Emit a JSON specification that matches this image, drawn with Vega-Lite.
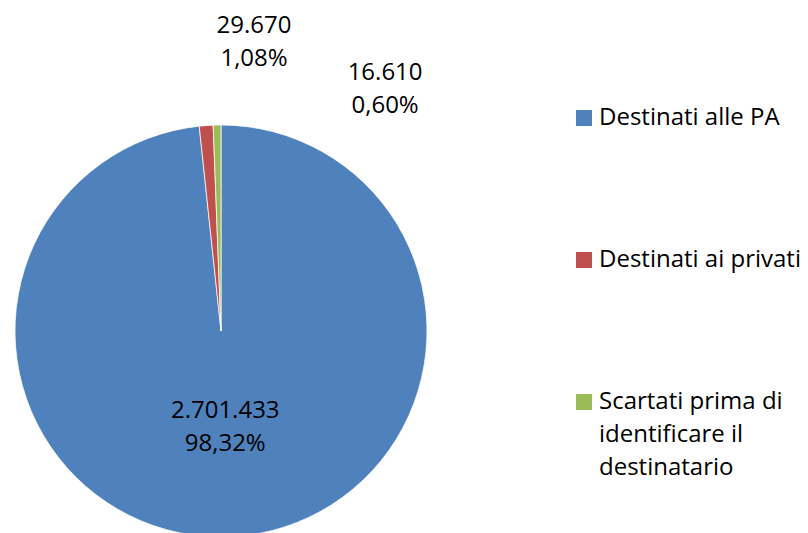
{
  "$schema": "https://vega.github.io/schema/vega-lite/v6.json",
  "width": 442,
  "height": 404,
  "autosize": {"type": "none"},
  "padding": {"top": 129, "left": 0, "right": 366, "bottom": 0},
  "background": "white",
  "config": {
    "view": {"stroke": null},
    "font": "Open Sans",
    "style": {"guide-label": {"lineHeight": 33}},
    "locale": {"number": {"decimal": ",", "thousands": ".", "grouping": [3], "currency": ["", " €"]}}
  },
  "data": {
    "values": [
      {"idx": 1, "cat": "Destinati alle PA", "value": 2701433},
      {"idx": 2, "cat": "Destinati ai privati", "value": 29670},
      {"idx": 3, "cat": "Scartati prima di identificare il destinatario", "value": 16610}
    ]
  },
  "transform": [
    {"joinaggregate": [{"op": "sum", "field": "value", "as": "total"}]},
    {"calculate": "format(datum.value, ',') + '\\n' + format(datum.value / datum.total, '.2%')", "as": "label"}
  ],
  "encoding": {
    "theta": {"field": "value", "type": "quantitative", "stack": true},
    "order": {"field": "idx", "type": "quantitative"},
    "color": {
      "field": "cat",
      "type": "nominal",
      "scale": {
        "domain": ["Destinati alle PA", "Destinati ai privati", "Scartati prima di identificare il destinatario"],
        "range": ["#4F81BD", "#C0504D", "#9BBB59"]
      },
      "legend": {
        "orient": "none",
        "legendX": 572,
        "legendY": -23,
        "title": null,
        "symbolType": "square",
        "symbolSize": 256,
        "symbolStrokeWidth": 0,
        "symbolOpacity": 1,
        "labelFontSize": 24,
        "labelFont": "Open Sans",
        "labelColor": "black",
        "labelLimit": 400,
        "labelOffset": 3,
        "rowPadding": 118,
        "padding": 0,
        "labelBaseline": "middle",
        "labelExpr": "datum.label == 'Scartati prima di identificare il destinatario' ? ['Scartati prima di', 'identificare il', 'destinatario'] : datum.label"
      }
    }
  },
  "layer": [
    {"mark": {"type": "arc", "outerRadius": 206, "stroke": "white", "strokeWidth": 0.75}},
    {
      "mark": {"type": "text", "radius": 80, "fontSize": 24, "font": "Open Sans", "lineBreak": "\n", "lineHeight": 33, "color": "black"},
      "encoding": {"text": {"condition": {"test": "datum.idx == 1", "field": "label"}, "value": ""}, "color": {"value": "black"}}
    },
    {
      "mark": {"type": "text", "radius": 306, "dx": 55, "fontSize": 24, "font": "Open Sans", "lineBreak": "\n", "lineHeight": 33, "color": "black"},
      "encoding": {"text": {"condition": {"test": "datum.idx == 2", "field": "label"}, "value": ""}, "color": {"value": "black"}}
    },
    {
      "mark": {"type": "text", "radius": 258, "dx": 169, "fontSize": 24, "font": "Open Sans", "lineBreak": "\n", "lineHeight": 33, "color": "black"},
      "encoding": {"text": {"condition": {"test": "datum.idx == 3", "field": "label"}, "value": ""}, "color": {"value": "black"}}
    }
  ]
}
